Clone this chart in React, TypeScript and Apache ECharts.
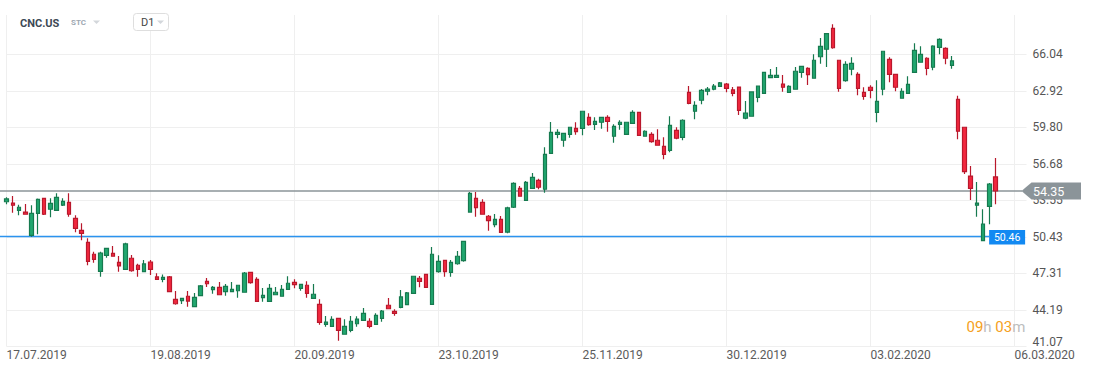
import React, { useEffect, useRef } from 'react';
import * as echarts from 'echarts';

const SYMBOL = 'CNC.US';
const SYMBOL_TYPE = 'STC';
const PERIOD = 'D1';
const START_DATE = '2019-07-17';
const END_DATE = '2020-03-06';
const HOLIDAYS = ['2019-09-02', '2019-11-28', '2019-12-25', '2020-01-01', '2020-01-20', '2020-02-17'];

const OPEN = [
  53.43, 53.32, 52.70, 52.55, 50.56, 52.44, 53.72, 52.79, 52.70, 53.15,
  53.38, 52.01, 50.99, 49.96, 48.94, 47.48, 48.85, 49.02, 48.25, 47.65,
  48.60, 48.00, 47.45, 48.28, 47.00, 46.80, 47.00, 45.09, 44.97, 45.35,
  44.46, 45.40, 46.63, 45.91, 46.11, 45.74, 45.74, 45.82, 45.69, 47.40,
  46.80, 45.23, 44.92, 45.48, 45.35, 45.94, 46.54, 46.03, 46.29, 45.17,
  44.66, 42.95, 42.78, 43.46, 42.10, 42.44, 43.00, 43.29, 43.21, 42.95,
  43.46, 44.58, 44.06, 44.40, 44.63, 45.60, 46.89, 47.22, 44.66, 47.45,
  48.42, 47.40, 48.13, 48.39, 52.55, 53.72, 53.38, 52.19, 51.47, 51.93,
  50.84, 52.96, 54.58, 53.55, 54.58, 55.26, 54.50, 57.57, 59.20, 58.69,
  59.20, 59.71, 59.71, 60.65, 60.05, 60.23, 60.65, 59.03, 60.05, 59.20,
  60.14, 61.08, 59.03, 59.20, 58.69, 58.17, 57.83, 59.54, 58.94, 62.79,
  61.17, 62.11, 62.88, 63.05, 63.30, 63.50, 62.99, 63.24, 60.57, 60.74,
  62.36, 62.70, 64.04, 64.07, 63.50, 62.79, 63.05, 64.50, 64.84, 63.99,
  65.83, 66.47, 68.26, 65.53, 63.78, 64.76, 64.33, 62.79, 63.22, 61.08,
  63.05, 65.61, 64.33, 62.28, 62.70, 64.50, 65.36, 65.70, 64.93, 66.64,
  66.55, 65.10, 62.19, 59.80, 55.63, 53.13, 50.10, 53.04, 55.55,
];

const CLOSE = [
  53.67, 53.13, 52.96, 52.36, 52.44, 53.64, 52.36, 53.30, 53.81, 53.47,
  52.36, 51.16, 50.73, 48.34, 48.51, 49.05, 49.45, 48.77, 47.94, 49.82,
  47.53, 47.65, 48.11, 47.65, 46.80, 46.97, 45.74, 44.71, 45.17, 44.94,
  45.26, 46.23, 46.42, 46.11, 45.48, 46.20, 45.94, 46.29, 47.34, 46.51,
  44.92, 45.43, 46.03, 45.69, 45.94, 46.46, 46.34, 46.37, 45.60, 45.52,
  43.12, 43.15, 43.38, 42.44, 42.78, 43.21, 43.40, 43.89, 42.78, 43.72,
  44.09, 44.28, 43.89, 45.29, 45.63, 47.06, 46.63, 46.11, 48.94, 48.34,
  47.45, 48.25, 48.77, 50.05, 54.15, 52.92, 52.36, 51.81, 51.93, 50.82,
  52.90, 55.01, 53.90, 55.09, 55.52, 54.67, 57.49, 59.37, 59.37, 59.28,
  59.80, 59.42, 61.17, 60.02, 60.31, 60.65, 60.31, 59.88, 60.23, 60.23,
  61.08, 59.11, 59.46, 58.57, 58.26, 57.49, 59.97, 58.86, 60.40, 61.85,
  61.68, 62.96, 63.07, 63.33, 63.59, 63.13, 62.70, 61.25, 61.02, 62.82,
  63.33, 64.50, 64.24, 64.24, 63.22, 63.30, 64.59, 65.01, 64.30, 65.53,
  66.72, 67.80, 66.60, 63.13, 65.18, 65.27, 63.13, 62.45, 62.96, 62.02,
  66.30, 64.33, 63.22, 62.88, 63.47, 66.38, 66.04, 64.84, 66.75, 67.32,
  65.70, 65.47, 59.46, 56.00, 54.58, 53.32, 51.53, 54.95, 54.35,
];

const LOW = [
  53.21, 52.49, 52.27, 52.36, 50.44, 50.65, 52.30, 52.10, 52.65, 53.07,
  52.15, 50.82, 50.13, 48.00, 48.22, 47.02, 48.65, 48.72, 47.45, 47.59,
  47.45, 47.02, 47.40, 47.17, 46.74, 46.54, 45.70, 44.63, 44.69, 44.46,
  44.42, 45.36, 46.14, 45.57, 45.44, 45.40, 45.70, 45.23, 45.65, 46.42,
  44.88, 44.88, 44.88, 45.44, 45.31, 45.90, 46.03, 45.82, 45.23, 45.13,
  42.92, 42.75, 42.74, 41.55, 42.06, 42.27, 42.75, 43.25, 42.61, 42.91,
  43.17, 44.24, 43.69, 44.32, 44.59, 45.56, 46.11, 46.07, 44.62, 47.36,
  47.02, 47.02, 48.05, 48.30, 52.49, 52.15, 52.32, 50.96, 51.25, 50.78,
  50.73, 52.90, 53.86, 53.51, 54.54, 54.50, 54.20, 57.53, 58.86, 58.14,
  58.91, 59.17, 59.11, 59.93, 59.57, 59.68, 59.42, 58.48, 59.59, 59.16,
  60.10, 59.07, 58.99, 58.48, 58.22, 57.06, 57.66, 58.77, 58.69, 61.76,
  60.48, 61.76, 62.53, 62.96, 63.24, 62.79, 62.45, 60.85, 60.48, 60.70,
  61.93, 62.66, 63.99, 64.03, 62.84, 62.75, 63.01, 64.04, 63.41, 63.95,
  65.24, 64.95, 66.52, 62.84, 63.70, 64.24, 62.53, 62.16, 62.28, 60.22,
  62.53, 63.65, 62.88, 62.24, 62.66, 64.46, 65.32, 64.24, 64.67, 66.04,
  65.18, 64.81, 58.77, 55.80, 53.58, 52.15, 50.06, 51.50, 53.21,
];

const HIGH = [
  53.81, 53.92, 53.18, 53.24, 53.13, 53.70, 53.78, 53.72, 54.15, 53.72,
  54.15, 52.27, 51.59, 50.31, 49.16, 49.16, 49.50, 49.65, 48.79, 49.93,
  48.88, 48.13, 48.45, 48.45, 47.31, 47.22, 47.08, 45.80, 45.20, 45.80,
  45.63, 46.31, 46.91, 46.23, 46.57, 46.40, 46.57, 46.33, 47.42, 47.45,
  46.97, 46.06, 46.40, 46.14, 46.31, 47.06, 46.80, 46.40, 46.63, 46.40,
  45.09, 43.66, 43.64, 43.50, 43.38, 43.66, 43.64, 44.35, 43.46, 43.89,
  44.17, 45.20, 44.23, 45.88, 45.71, 47.10, 47.08, 47.26, 49.56, 48.85,
  48.46, 48.45, 49.22, 50.08, 54.26, 54.26, 53.64, 52.30, 52.38, 52.21,
  53.01, 55.10, 54.78, 55.20, 55.89, 55.40, 58.09, 60.25, 59.63, 59.32,
  59.84, 60.22, 61.21, 60.99, 60.65, 60.69, 60.82, 60.05, 60.40, 60.27,
  61.25, 61.12, 59.54, 59.37, 59.63, 58.94, 60.74, 59.80, 60.48, 63.33,
  62.02, 63.07, 63.24, 63.50, 63.67, 63.59, 63.24, 63.28, 62.05, 62.86,
  63.37, 64.54, 64.78, 64.95, 64.27, 63.39, 64.95, 65.05, 64.93, 66.04,
  67.43, 67.84, 68.61, 65.57, 65.44, 65.78, 64.50, 63.22, 63.39, 63.82,
  66.34, 65.78, 64.37, 63.13, 64.16, 66.98, 66.72, 65.78, 66.81, 67.41,
  66.64, 65.89, 62.50, 59.84, 56.49, 55.12, 52.79, 55.03, 57.17,
];

const Y_TICKS = [41.07, 44.19, 47.31, 50.43, 53.55, 56.68, 59.80, 62.92, 66.04];
const Y_MIN = 41.07;
const Y_MAX = 69.4;
const LAST_PRICE = 54.35;
const ALERT_PRICE = 50.46;
const TIMER_HOURS = '09';
const TIMER_MINUTES = '03';

function tradingDays(start: string, end: string, holidays: string[]): string[] {
  const out: string[] = [];
  const d = new Date(start + 'T00:00:00Z');
  const e = new Date(end + 'T00:00:00Z');
  while (d <= e) {
    const dow = d.getUTCDay();
    const iso = d.toISOString().slice(0, 10);
    if (dow !== 0 && dow !== 6 && holidays.indexOf(iso) < 0) {
      out.push(`${iso.slice(8, 10)}.${iso.slice(5, 7)}.${iso.slice(0, 4)}`);
    }
    d.setUTCDate(d.getUTCDate() + 1);
  }
  return out;
}

const FONT = 'Roboto, "Noto Sans", sans-serif';

export default function App() {
  const ref = useRef<HTMLDivElement>(null);

  useEffect(() => {
    if (!ref.current) return;
    const chart = echarts.init(ref.current, null, { renderer: 'svg' });
    const dates = tradingDays(START_DATE, END_DATE, HOLIDAYS);
    const data = OPEN.map((o, i) => [o, CLOSE[i], LOW[i], HIGH[i]]);

    const option: any = {
      animation: false,
      textStyle: { fontFamily: FONT },
      grid: { left: 6.5, right: 78.5, top: 15, bottom: 25.7, outerBoundsMode: 'none' },
      xAxis: {
        type: 'category',
        data: dates,
        boundaryGap: false,
        axisLine: { show: false },
        axisTick: { show: false },
        axisLabel: {
          interval: 22,
          align: 'left',
          margin: 3,
          color: '#5b5b5b',
          fontSize: 12,
          fontFamily: FONT,
        },
        splitLine: { show: true, interval: 22, lineStyle: { color: '#efefef', width: 1 } },
      },
      yAxis: {
        type: 'value',
        position: 'right',
        min: Y_MIN,
        max: Y_MAX,
        axisLine: { show: false },
        axisTick: { show: true, length: 12, customValues: Y_TICKS, lineStyle: { color: '#efefef' } },
        axisLabel: {
          customValues: Y_TICKS,
          margin: 18,
          color: '#555555',
          fontSize: 12,
          fontFamily: FONT,
          formatter: (v: number) => {
            const s = v.toFixed(2);
            return Math.abs(v - Y_MIN) < 1e-6 ? `{b|${s}}` : s;
          },
          rich: {
            b: { padding: [0, 0, 9, 0], color: '#555555', fontSize: 12, fontFamily: FONT },
          },
        },
        splitLine: { show: true, lineStyle: { color: '#efefef', width: 1 } },
      },
      series: [
        {
          type: 'candlestick',
          data,
          barWidth: 4,
          clip: false,
          itemStyle: {
            color: '#21a76f',
            color0: '#f2283f',
            borderColor: '#167a4f',
            borderColor0: '#b9182c',
            borderWidth: 1.2,
          },
        },
      ],
    };
    chart.setOption(option);

    const yLast = chart.convertToPixel({ yAxisIndex: 0 }, LAST_PRICE) as number;
    const yAlert = chart.convertToPixel({ yAxisIndex: 0 }, ALERT_PRICE) as number;
    const xLastBar = chart.convertToPixel({ xAxisIndex: 0 }, OPEN.length - 1) as number;
    const tagX = xLastBar - 6.6;

    chart.setOption({
      graphic: [
        // header
        {
          type: 'text', x: 20, y: 23, z: 100,
          style: { text: SYMBOL, fill: '#3d4955', fontSize: 11, fontWeight: 'bold', fontFamily: FONT, verticalAlign: 'middle' },
        },
        {
          type: 'text', x: 71, y: 22.5, z: 100,
          style: { text: SYMBOL_TYPE, fill: '#9ea8b2', fontSize: 8, fontWeight: 'bold', fontFamily: FONT, verticalAlign: 'middle' },
        },
        {
          type: 'polygon', z: 100,
          shape: { points: [[93, 20.5], [100, 20.5], [96.5, 24]] },
          style: { fill: '#d3d7db' },
        },
        {
          type: 'rect', z: 100,
          shape: { x: 133.5, y: 13.5, width: 35, height: 17, r: 3 },
          style: { fill: '#ffffff', stroke: '#dedede', lineWidth: 1 },
        },
        {
          type: 'text', x: 141, y: 22.5, z: 101,
          style: { text: PERIOD, fill: '#444444', fontSize: 11, fontFamily: FONT, verticalAlign: 'middle' },
        },
        {
          type: 'polygon', z: 101,
          shape: { points: [[157, 20.5], [164, 20.5], [160.5, 24]] },
          style: { fill: '#d3d7db' },
        },
        // last price line & tag
        {
          type: 'line', z: 1,
          shape: { x1: 0, y1: yLast, x2: 1022, y2: yLast },
          style: { stroke: '#8b9499', lineWidth: 1.3 },
        },
        {
          type: 'polygon', z: 100,
          shape: {
            points: [
              [1021.5, yLast], [1031.5, yLast - 8.5], [1081, yLast - 8.5],
              [1081, yLast + 8.5], [1031.5, yLast + 8.5],
            ],
          },
          style: { fill: '#8b9499' },
        },
        {
          type: 'text', x: 1033, y: yLast + 0.5, z: 101,
          style: { text: LAST_PRICE.toFixed(2), fill: '#ffffff', fontSize: 12.5, fontFamily: FONT, verticalAlign: 'middle' },
        },
        // alert line & tag
        {
          type: 'line', z: 1,
          shape: { x1: 0, y1: yAlert, x2: tagX, y2: yAlert },
          style: { stroke: '#2b93ef', lineWidth: 1.5 },
        },
        {
          type: 'rect', z: 100,
          shape: { x: tagX, y: yAlert - 6.5, width: 36, height: 14.5 },
          style: { fill: '#1289f2' },
        },
        {
          type: 'text', x: tagX + 18, y: yAlert + 0.8, z: 101,
          style: { text: ALERT_PRICE.toFixed(2), fill: '#ffffff', fontSize: 10.5, fontFamily: FONT, align: 'center', verticalAlign: 'middle' },
        },
        // candle timer
        {
          type: 'text', x: 966.5, y: 327, z: 100,
          style: {
            text: `{o|${TIMER_HOURS}}{g|h} {o|${TIMER_MINUTES}}{g|m}`,
            fontFamily: FONT,
            fontSize: 15,
            verticalAlign: 'middle',
            rich: {
              o: { fill: '#f5a021', fontSize: 15, fontFamily: FONT },
              g: { fill: '#bdbdbd', fontSize: 15, fontFamily: FONT },
            },
          },
        },
      ],
    });

    return () => chart.dispose();
  }, []);

  return (
    <div
      ref={ref}
      style={{ position: 'absolute', left: 0, top: 0, width: 1093, height: 372, background: '#ffffff' }}
    />
  );
}
